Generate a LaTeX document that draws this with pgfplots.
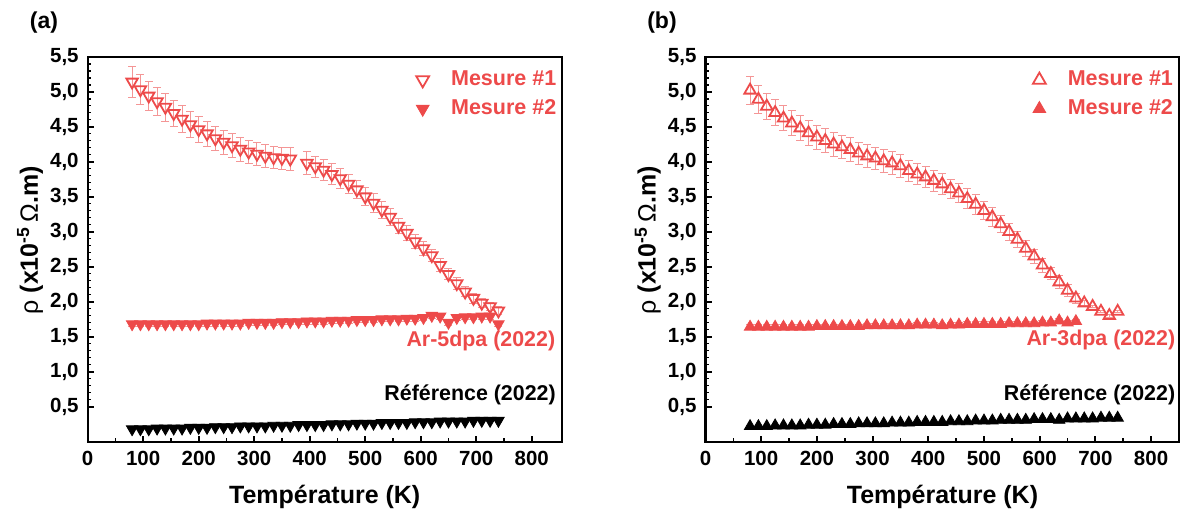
\documentclass[border=0pt]{standalone}
\usepackage{pgfplots}
\pgfplotsset{compat=1.18}
\usepackage{fontspec}
\setmainfont{Liberation Sans}
\definecolor{myred}{RGB}{237,74,74}
\definecolor{errred}{RGB}{244,150,150}

\pgfplotsset{
  myaxis/.style={
    scale only axis, width=237pt, height=192.5pt,
    xmin=0, ymin=0, ymax=5.5,
    axis line style={line width=1.1pt},
    tick align=inside, xtick pos=bottom, ytick pos=left,
    xtick={0,100,...,800}, minor x tick num=1,
    ytick={0.5,1.0,1.5,2.0,2.5,3.0,3.5,4.0,4.5,5.0,5.5}, minor y tick num=4,
    major tick length=3pt, minor tick length=1.6pt,
    major tick style={line width=1pt, black},
    minor tick style={line width=0.8pt, black},
    /pgf/number format/assume math mode=true,
    tick label style={font=\fontsize{10.25}{12}\selectfont\bfseries},
    yticklabel style={/pgf/number format/.cd, fixed, fixed zerofill, precision=1, use comma, /tikz/.cd, xshift=-1pt},
    xticklabel style={yshift=-1pt},
    xlabel={\fontsize{12.5}{15}\selectfont\bfseries Température (K)},
    xlabel style={at={(axis description cs:0.5,-0.1436)}, anchor=center},
    ylabel style={at={(axis description cs:-0.1217,0.523)}, anchor=center},
    legend cell align=left,
    legend style={draw=none, fill=none, inner sep=0pt, text=myred,
      font=\fontsize{10.75}{13}\selectfont\bfseries, row sep=5.5pt,
      nodes={inner sep=0pt},
      /tikz/every odd column/.append style={column sep=11pt}},
    legend image code/.code={\draw[mark size=3.7pt] plot coordinates {(0.3cm,0cm)};},
  },
  errs/.style={error bars/.cd, y dir=both, y explicit,
    error bar style={errred, line width=0.5pt},
    error mark options={rotate=90, mark size=2pt, errred, line width=0.5pt}, /pgfplots/.cd},
}

\begin{document}
\begin{tikzpicture}
\path[use as bounding box] (0,0) rectangle (590pt,256.5pt);
\node[font=\fontsize{11.5}{14}\selectfont\bfseries] at (22pt,245pt) {(a)};
\node[font=\fontsize{11.5}{14}\selectfont\bfseries] at (331pt,245pt) {(b)};

% ---------------- (a)
\begin{axis}[myaxis, at={(43.85pt,35.65pt)}, anchor=south west, xmax=854,
  ylabel={\fontsize{12.5}{15}\selectfont ρ \textbf{(x10\textsuperscript{-5}}\,Ω\textbf{.m)}},
  legend style={at={(axis cs:845,5.30)}, anchor=north east}]
\addplot[only marks, errs, mark=triangle, mark size=3.3pt, color=myred,
  mark options={rotate=180, fill=white, draw=myred, line width=0.9pt}] table[x=T, y=r, y error=e] {
T r e
80 5.14 0.22
95 5.03 0.21
110 4.94 0.21
125 4.86 0.20
140 4.78 0.20
155 4.69 0.19
170 4.61 0.19
185 4.53 0.18
200 4.46 0.18
215 4.40 0.18
230 4.33 0.17
245 4.28 0.17
260 4.23 0.17
275 4.18 0.17
290 4.14 0.16
305 4.11 0.16
320 4.08 0.16
335 4.06 0.16
350 4.05 0.16
365 4.04 0.16
395 3.98 0.16
410 3.93 0.15
425 3.88 0.15
440 3.82 0.15
455 3.76 0.14
470 3.68 0.14
485 3.60 0.13
500 3.50 0.13
515 3.41 0.13
530 3.31 0.12
545 3.21 0.12
560 3.08 0.11
575 2.98 0.11
590 2.86 0.10
605 2.76 0.10
620 2.66 0.09
635 2.52 0.09
650 2.39 0.08
665 2.26 0.08
680 2.14 0.07
695 2.05 0.07
710 1.98 0.06
725 1.93 0.06
740 1.87 0.06
};
\addlegendentry{Mesure \#1}
\addplot[only marks, errs, mark=triangle*, mark size=3.3pt, color=myred,
  mark options={rotate=180, fill=myred, draw=myred, line width=0.4pt}] table[x=T, y=r, y error=e] {
T r e
80 1.68 0.04
95 1.68 0.04
110 1.68 0.04
125 1.68 0.04
140 1.68 0.04
155 1.68 0.04
170 1.68 0.04
185 1.68 0.04
200 1.68 0.04
215 1.69 0.04
230 1.69 0.04
245 1.69 0.04
260 1.69 0.04
275 1.69 0.04
290 1.70 0.04
305 1.70 0.04
320 1.70 0.04
335 1.70 0.04
350 1.71 0.04
365 1.71 0.04
380 1.71 0.04
395 1.72 0.04
410 1.72 0.04
425 1.72 0.04
440 1.73 0.04
455 1.73 0.04
470 1.73 0.04
485 1.74 0.04
500 1.74 0.04
515 1.74 0.04
530 1.75 0.04
545 1.75 0.04
560 1.75 0.04
575 1.76 0.04
590 1.76 0.04
605 1.77 0.04
620 1.80 0.04
635 1.79 0.04
650 1.70 0.04
665 1.77 0.04
680 1.78 0.04
695 1.78 0.04
710 1.79 0.04
725 1.79 0.04
740 1.68 0.04
};
\addlegendentry{Mesure \#2}
\addplot[only marks, mark=triangle*, mark size=3.3pt, color=black,
  mark options={rotate=180, fill=black, draw=black, line width=0.4pt}, forget plot] table[x=T, y=r] {
T r
80 0.18
95 0.18
110 0.18
125 0.19
140 0.19
155 0.19
170 0.19
185 0.20
200 0.20
215 0.20
230 0.21
245 0.21
260 0.21
275 0.22
290 0.22
305 0.22
320 0.22
335 0.23
350 0.23
365 0.23
380 0.24
395 0.24
410 0.24
425 0.24
440 0.25
455 0.25
470 0.25
485 0.26
500 0.26
515 0.26
530 0.27
545 0.27
560 0.27
575 0.27
590 0.28
605 0.28
620 0.28
635 0.29
650 0.29
665 0.29
680 0.29
695 0.30
710 0.30
725 0.30
740 0.30
};
\node[anchor=east, inner sep=0pt, text=myred, font=\fontsize{10.7}{13}\selectfont\bfseries] at (axis cs:843,1.44) {Ar-5dpa (2022)};
\node[anchor=east, inner sep=0pt, font=\fontsize{10.7}{13}\selectfont\bfseries] at (axis cs:844,0.667) {Référence (2022)};
\end{axis}

% ---------------- (b)
\begin{axis}[myaxis, at={(352.75pt,35.65pt)}, anchor=south west, xmax=851,
  ylabel={\fontsize{12.5}{15}\selectfont ρ \textbf{(x10\textsuperscript{-5}}\,Ω\textbf{.m)}},
  legend style={at={(axis cs:840,5.30)}, anchor=north east}]
\addplot[only marks, errs, mark=triangle, mark size=3.3pt, color=myred,
  mark options={fill=white, draw=myred, line width=0.9pt}] table[x=T, y=r, y error=e] {
T r e
80 5.02 0.20
95 4.89 0.20
110 4.79 0.19
125 4.70 0.19
140 4.62 0.18
155 4.55 0.18
170 4.48 0.18
185 4.41 0.18
200 4.35 0.17
215 4.30 0.17
230 4.25 0.17
245 4.21 0.17
260 4.17 0.17
275 4.12 0.16
290 4.08 0.16
305 4.05 0.16
320 4.01 0.16
335 3.98 0.16
350 3.94 0.16
365 3.87 0.15
380 3.82 0.15
395 3.78 0.15
410 3.73 0.15
425 3.68 0.15
440 3.61 0.14
455 3.55 0.14
470 3.47 0.14
485 3.39 0.14
500 3.30 0.13
515 3.21 0.13
530 3.11 0.12
545 3.00 0.12
560 2.89 0.11
575 2.76 0.11
590 2.65 0.10
605 2.52 0.10
620 2.40 0.09
635 2.28 0.09
650 2.16 0.08
665 2.05 0.07
680 1.98 0.03
695 1.93 0.02
710 1.86 0.02
725 1.80 0.02
740 1.86 0.02
};
\addlegendentry{Mesure \#1}
\addplot[only marks, errs, mark=triangle*, mark size=3.3pt, color=myred,
  mark options={fill=myred, draw=myred, line width=0.4pt}] table[x=T, y=r, y error=e] {
T r e
80 1.64 0.03
95 1.64 0.03
110 1.64 0.03
125 1.64 0.03
140 1.64 0.03
155 1.64 0.03
170 1.64 0.03
185 1.64 0.03
200 1.65 0.03
215 1.65 0.03
230 1.65 0.03
245 1.65 0.03
260 1.65 0.03
275 1.65 0.03
290 1.66 0.03
305 1.66 0.03
320 1.66 0.03
335 1.66 0.03
350 1.66 0.03
365 1.66 0.03
380 1.67 0.03
395 1.67 0.03
410 1.67 0.03
425 1.66 0.03
440 1.67 0.03
455 1.67 0.03
470 1.68 0.03
485 1.68 0.03
500 1.68 0.03
515 1.68 0.03
530 1.68 0.03
545 1.69 0.03
560 1.69 0.03
575 1.69 0.03
590 1.69 0.03
605 1.70 0.03
620 1.70 0.03
635 1.73 0.03
650 1.70 0.03
665 1.72 0.03
};
\addlegendentry{Mesure \#2}
\addplot[only marks, mark=triangle*, mark size=3.3pt, color=black,
  mark options={fill=black, draw=black, line width=0.4pt}, forget plot] table[x=T, y=r] {
T r
80 0.22
95 0.22
110 0.22
125 0.23
140 0.23
155 0.23
170 0.23
185 0.24
200 0.24
215 0.24
230 0.25
245 0.25
260 0.25
275 0.26
290 0.26
305 0.26
320 0.26
335 0.27
350 0.27
365 0.27
380 0.28
395 0.28
410 0.28
425 0.28
440 0.29
455 0.29
470 0.29
485 0.30
500 0.30
515 0.30
530 0.31
545 0.31
560 0.31
575 0.31
590 0.32
605 0.32
620 0.32
635 0.31
650 0.33
665 0.33
680 0.33
695 0.33
710 0.34
725 0.34
740 0.34
};
\node[anchor=east, inner sep=0pt, text=myred, font=\fontsize{10.7}{13}\selectfont\bfseries] at (axis cs:844,1.45) {Ar-3dpa (2022)};
\node[anchor=east, inner sep=0pt, font=\fontsize{10.7}{13}\selectfont\bfseries] at (axis cs:844,0.667) {Référence (2022)};
\end{axis}
\end{tikzpicture}
\end{document}
